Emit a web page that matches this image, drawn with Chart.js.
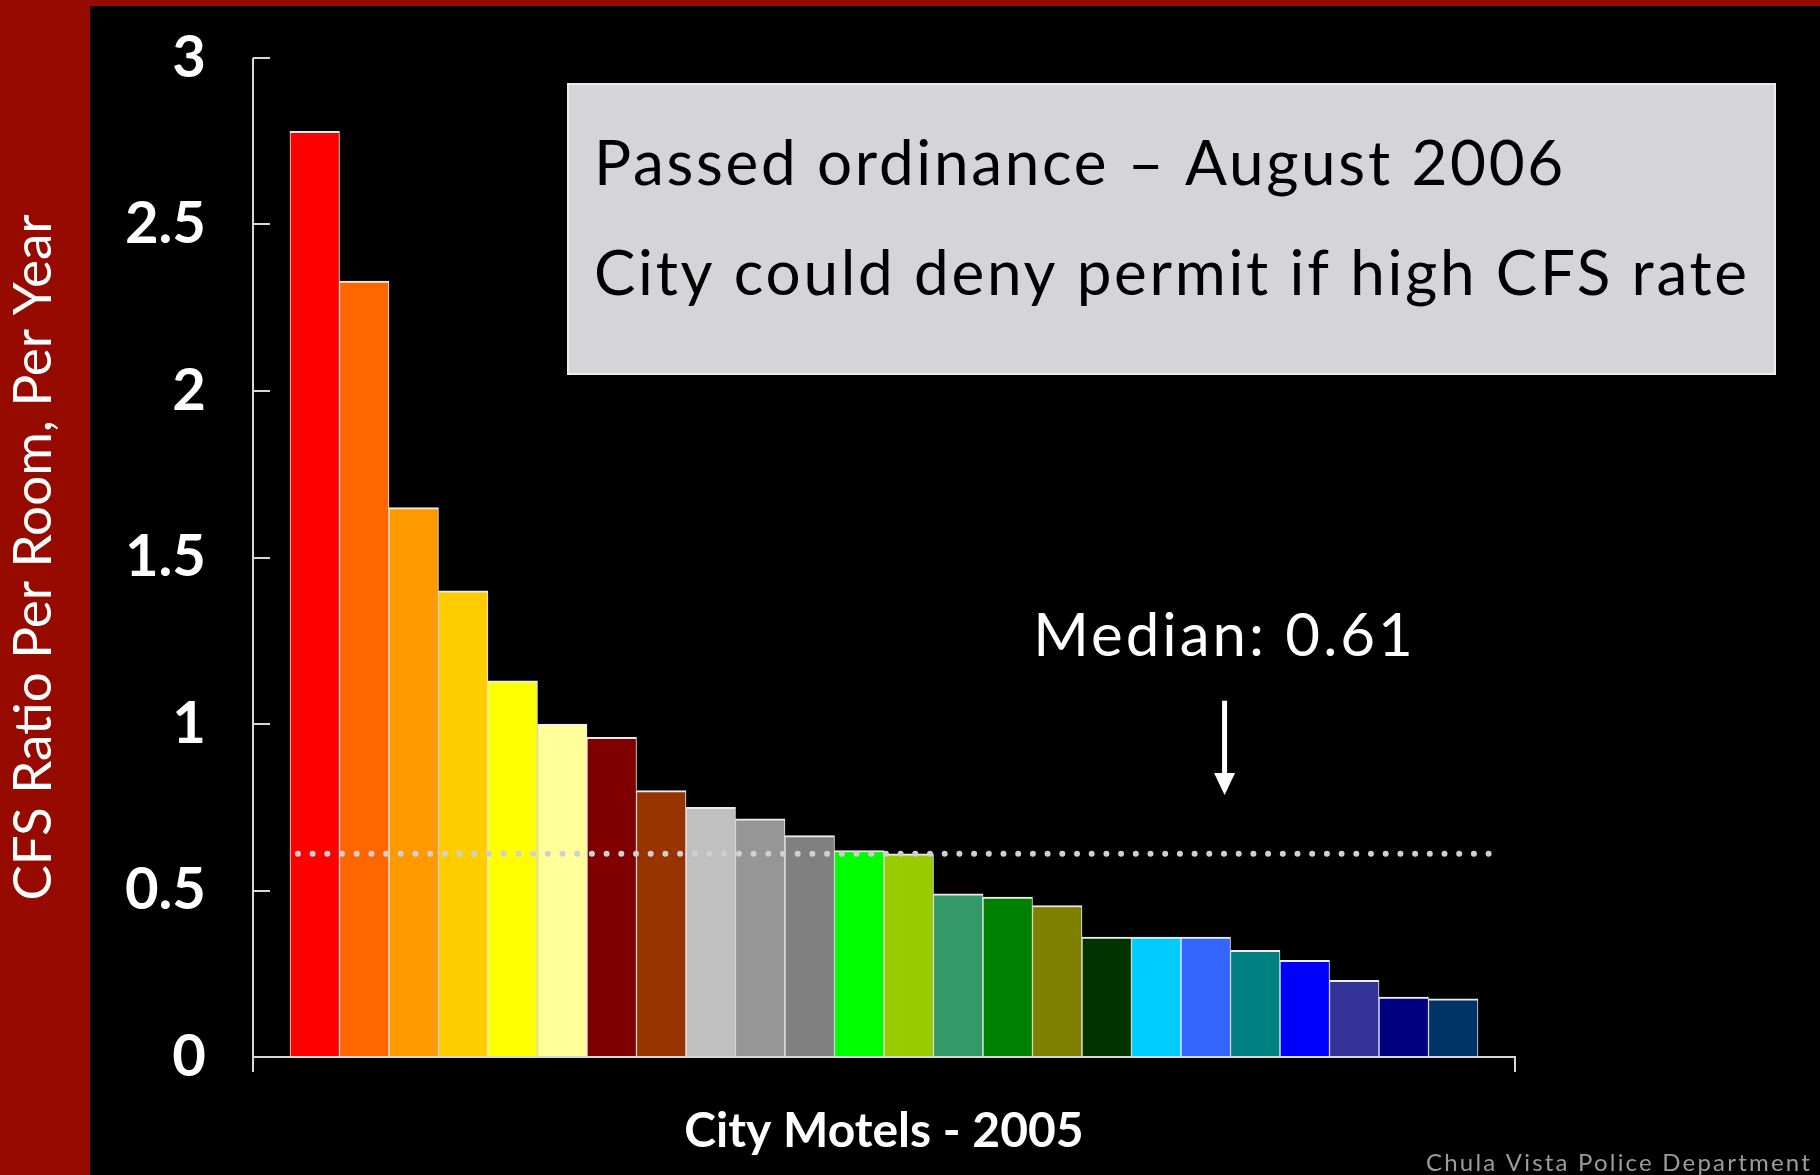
<!DOCTYPE html>
<html>
<head>
<meta charset="utf-8">
<title>CFS Ratio Per Room - City Motels 2005</title>
<script src="https://cdn.jsdelivr.net/npm/chart.js@4.4.1/dist/chart.umd.min.js"></script>
<style>
  html, body { margin: 0; padding: 0; background: #000; }
  canvas { display: block; }
</style>
</head>
<body>
<canvas id="cfsChart" width="1820" height="1175"></canvas>
<script>
// CFS ratio per room, per year, for each city motel (2005), highest first
const cfsValues = [2.78, 2.33, 1.65, 1.40, 1.13, 1.00, 0.96, 0.80, 0.75, 0.715, 0.665, 0.62,
  0.61, 0.49, 0.48, 0.455, 0.36, 0.36, 0.36, 0.32, 0.29, 0.23, 0.18, 0.175];

// One category per motel
const motels = cfsValues.map((v, i) => "Motel " + (i + 1));

// Bar fill colours, one per motel
const barColors = ["#FF0000", "#FF6600", "#FF9900", "#FFCC00", "#FFFF00", "#FFFF99",
  "#800000", "#993300", "#C0C0C0", "#969696", "#808080", "#00FF00",
  "#99CC00", "#339966", "#008000", "#808000", "#003300", "#00CCFF",
  "#3366FF", "#008080", "#0000FF", "#333399", "#000080", "#003366"];

// Y axis tick values
const yTicks = [0, 0.5, 1, 1.5, 2, 2.5, 3];

// Median ratio across all motels
const medianValue = 0.61;

// Text inside the grey note box
const noteLines = ["Passed ordinance \u2013 August 2006", "City could deny permit if high CFS rate"];

// Axis line colour
const axisColor = "#d8d8d8";

// Empty room left and right of the bars, in category units
const sidePad = 0.747;

// Draws the slide background, axis lines, the note box and the median callout
const slideDecor = {
  id: "slideDecor",
  beforeDraw(chart) {
    const ctx = chart.ctx;
    ctx.save();
    ctx.fillStyle = "#960a00";
    ctx.fillRect(0, 0, chart.width, chart.height);
    ctx.fillStyle = "#000000";
    ctx.fillRect(90, 6, chart.width - 90, chart.height - 6);
    ctx.restore();
  },
  afterDraw(chart) {
    const ctx = chart.ctx;
    const x = chart.scales.x;
    const y = chart.scales.y;
    const left = Math.round(x.left);
    const right = Math.round(x.right);
    const base = Math.round(y.getPixelForValue(0));
    const top = Math.round(y.getPixelForValue(3));

    ctx.save();
    ctx.strokeStyle = axisColor;
    ctx.lineWidth = 2;
    ctx.beginPath();
    // y axis, running a little past the baseline
    ctx.moveTo(left, top);
    ctx.lineTo(left, base + 15);
    // x axis with its closing tick at the right end
    ctx.moveTo(left, base);
    ctx.lineTo(right, base);
    ctx.lineTo(right, base + 15);
    // y ticks point into the plot
    for (const v of yTicks) {
      const py = Math.round(y.getPixelForValue(v));
      ctx.moveTo(left, py);
      ctx.lineTo(left + 17, py);
    }
    ctx.stroke();

    // Note box
    ctx.fillStyle = "#d5d5d7";
    ctx.fillRect(568, 84, 1207, 290);
    ctx.strokeStyle = "#ececec";
    ctx.lineWidth = 2;
    ctx.strokeRect(568, 84, 1207, 290);
    ctx.fillStyle = "#000000";
    ctx.font = "400 62px Lato";
    ctx.letterSpacing = "2.7px";
    ctx.textAlign = "left";
    ctx.textBaseline = "alphabetic";
    ctx.fillText(noteLines[0], 594, 185);
    ctx.fillText(noteLines[1], 594, 295);

    // Median label and arrow
    const ax = x.getPixelForValue(18.38);
    ctx.fillStyle = "#ffffff";
    ctx.font = "400 60px Lato";
    ctx.letterSpacing = "3px";
    ctx.textAlign = "center";
    ctx.fillText("Median: " + medianValue.toFixed(2), ax, y.getPixelForValue(1.204));
    const shaftTop = y.getPixelForValue(1.07);
    const tip = y.getPixelForValue(0.787);
    ctx.fillRect(ax - 2.5, shaftTop, 5, tip - shaftTop - 20);
    ctx.beginPath();
    ctx.moveTo(ax - 10.5, tip - 22);
    ctx.lineTo(ax + 10.5, tip - 22);
    ctx.lineTo(ax, tip);
    ctx.closePath();
    ctx.fill();

    // Source credit
    ctx.fillStyle = "#9c9c9c";
    ctx.font = "400 24px Lato";
    ctx.letterSpacing = "2.2px";
    ctx.textAlign = "right";
    ctx.fillText("Chula Vista Police Department", 1812, 1171);
    ctx.restore();
  }
};

const ctx = document.getElementById("cfsChart").getContext("2d");
const chart = new Chart(ctx, {
  data: {
    datasets: [
      {
        type: "line",
        label: "Median",
        data: [{ x: -0.34, y: medianValue }, { x: motels.length - 0.12, y: medianValue }],
        borderColor: "#d0d0d0",
        borderWidth: 6,
        borderDash: [0, 14.7],
        borderCapStyle: "round",
        pointRadius: 0,
        fill: false,
        order: 0,
      },
      {
        type: "bar",
        label: "CFS ratio",
        data: cfsValues.map((v, i) => ({ x: i, y: v })),
        backgroundColor: barColors,
        borderColor: "#ececec",
        borderWidth: { top: 2, left: 1, right: 1, bottom: 0 },
        borderSkipped: "start",
        categoryPercentage: 1,
        barPercentage: 1,
        order: 1,
      },
    ],
  },
  options: {
    responsive: false,
    animation: false,
    devicePixelRatio: 1,
    layout: {
      padding: { top: 58, right: 305, left: 0, bottom: 0 },
    },
    plugins: {
      legend: { display: false },
      tooltip: { enabled: false },
    },
    scales: {
      x: {
        type: "linear",
        offset: false,
        min: -0.5 - sidePad,
        max: motels.length - 0.5 + sidePad,
        afterBuildTicks: (axis) => {
          axis.ticks = motels.map((m, i) => ({ value: i }));
        },
        afterFit: (axis) => {
          axis.height = 118;
          axis.paddingLeft = 0;
          axis.paddingRight = 0;
        },
        grid: { display: false, drawTicks: false },
        border: { display: false },
        ticks: { display: false },
        title: {
          display: true,
          text: "City Motels - 2005",
          color: "#ffffff",
          font: { family: "Lato", size: 48, weight: "700", lineHeight: 1 },
          padding: { top: 0, bottom: 19 },
        },
      },
      y: {
        min: 0,
        max: 3,
        afterBuildTicks: (axis) => {
          axis.ticks = yTicks.map((v) => ({ value: v }));
        },
        afterFit: (axis) => {
          axis.width = 253;
          axis.paddingTop = 0;
          axis.paddingBottom = 0;
        },
        grid: { display: false, drawTicks: false },
        border: { display: false },
        ticks: {
          color: "#ffffff",
          padding: 47,
          font: { family: "Lato", size: 58, weight: "700" },
          callback: (value) => String(value),
        },
        title: {
          display: true,
          text: "CFS Ratio Per Room, Per Year",
          color: "#ffffff",
          font: { family: "Lato", size: 53, weight: "400", lineHeight: 1 },
          padding: { top: 7, bottom: 0 },
        },
      },
    },
  },
  plugins: [slideDecor],
});
</script>
</body>
</html>
